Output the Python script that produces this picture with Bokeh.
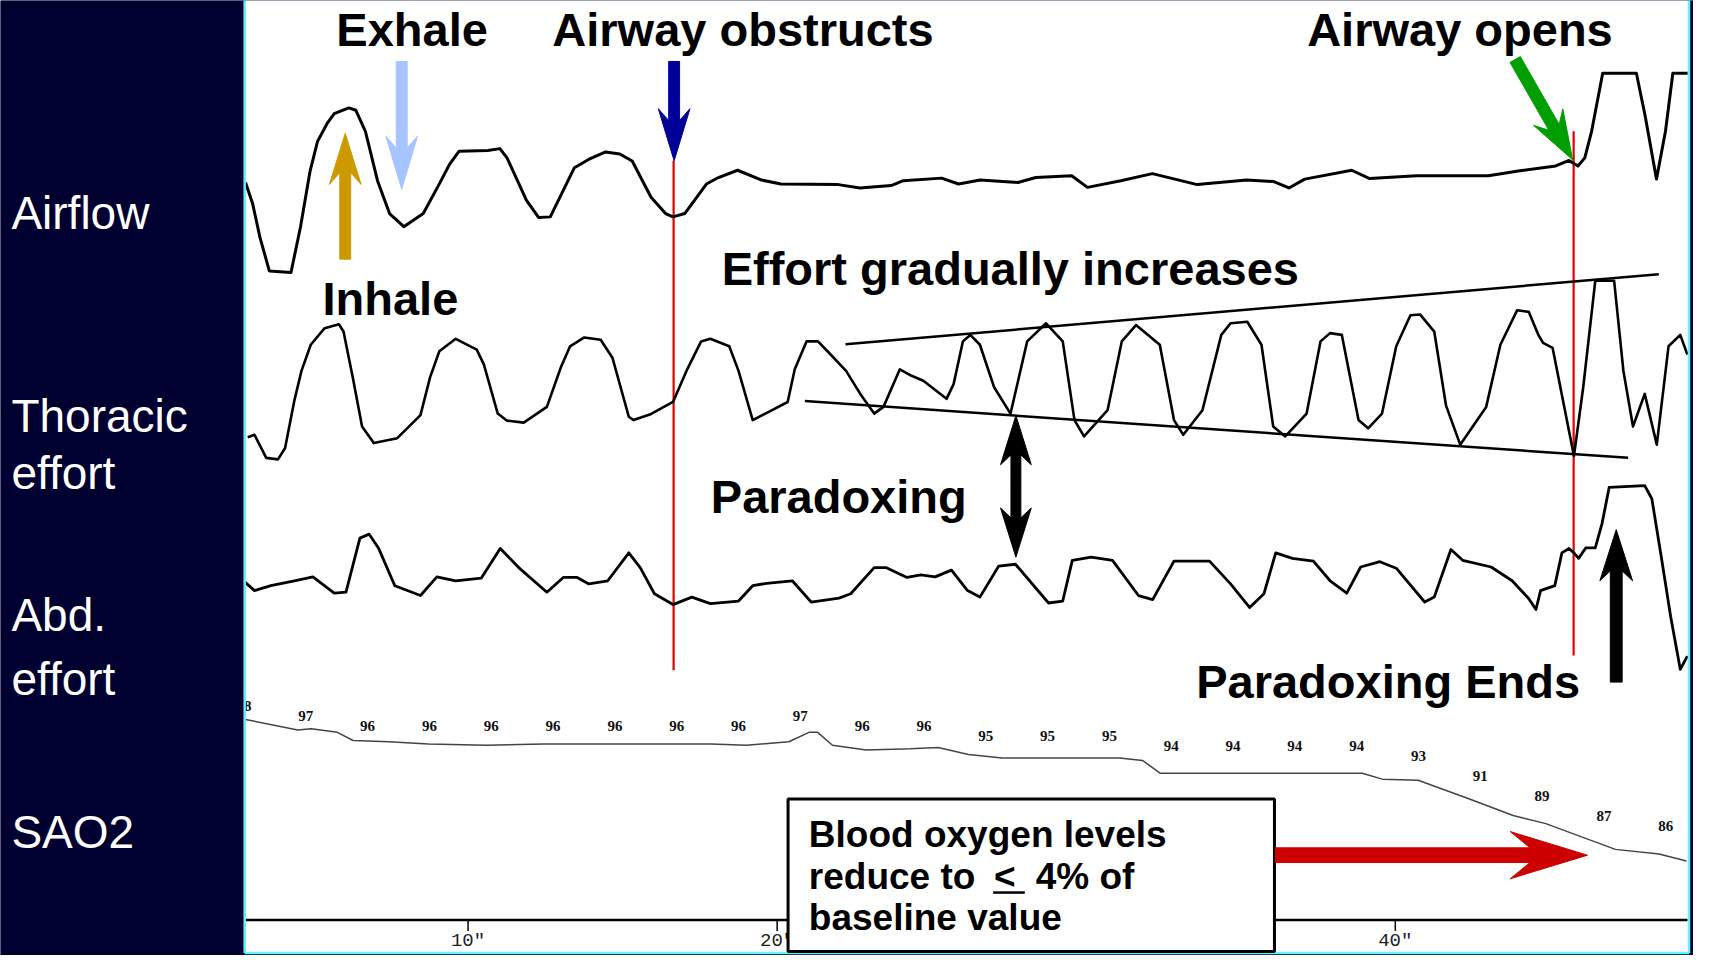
import math
from bokeh.plotting import figure
from bokeh.models import Range1d
from bokeh.core.properties import value
from bokeh.embed import file_html
from bokeh.resources import INLINE

# ---------------- data (time in seconds, amplitudes in arbitrary units) ----------------
airflow_t = [2.80, 3.03, 3.26, 3.57, 4.27, 4.58, 4.89, 5.13, 5.44, 5.67,
             6.14, 6.37, 6.68, 7.07, 7.46, 7.92, 8.55, 9.01, 9.40, 9.71,
             10.64, 11.03, 11.26, 11.89, 12.28, 12.66, 13.44, 13.90, 14.45, 14.91,
             15.31, 15.92, 16.39, 16.63, 17.01, 17.71, 18.10, 18.72, 19.50, 20.12,
             21.98, 22.68, 23.69, 24.08, 25.32, 25.87, 26.57, 27.79, 28.37, 29.53,
             30.04, 31.12, 32.14, 33.59, 35.19, 36.05, 36.56, 37.07, 38.59, 39.17,
             40.69, 43.01, 44.03, 45.19, 45.62, 45.91, 46.13, 46.35, 46.71, 47.80,
             48.08, 48.45, 48.74, 48.98, 49.46]
airflow_v = [47.5, 36.7, 20.0, 2.5, 1.7, 25.0, 53.4, 68.4, 77.5, 82.5,
             85.4, 84.2, 73.4, 48.4, 31.7, 25.0, 31.7, 45.0, 56.7, 63.4,
             63.7, 64.7, 60.0, 38.4, 29.7, 30.0, 55.0, 59.2, 63.0, 62.0,
             58.4, 40.0, 31.7, 30.0, 31.7, 46.7, 50.0, 53.7, 48.7, 46.7,
             46.4, 44.7, 45.9, 48.4, 49.7, 46.7, 48.7, 47.5, 50.0, 50.9,
             45.0, 48.4, 52.0, 46.4, 48.7, 48.0, 44.7, 49.2, 53.7, 49.5,
             50.9, 50.9, 53.4, 55.9, 58.7, 55.9, 60.0, 73.4, 103.0, 103.0,
             81.7, 49.2, 73.4, 103.0, 103.0]

thor_t = [2.87, 3.09, 3.47, 3.85, 4.08, 4.38, 4.61, 4.91, 5.36, 5.82,
          5.97, 6.27, 6.57, 6.95, 7.71, 8.46, 8.77, 9.07, 9.60, 10.28,
          10.51, 10.96, 11.26, 11.80, 12.55, 13.00, 13.30, 13.76, 14.29, 14.67,
          15.20, 15.35, 15.88, 16.63, 17.09, 17.54, 17.84, 18.45, 18.75, 19.21,
          19.73, 20.34, 20.57, 20.95, 21.32, 21.63, 22.23, 22.69, 23.14, 23.44,
          23.97, 24.35, 24.73, 25.48, 25.71, 26.01, 26.25, 26.56, 27.02, 27.55,
          28.09, 28.70, 29.24, 29.62, 29.93, 30.69, 31.15, 31.61, 32.38, 32.84,
          33.14, 33.76, 34.37, 34.67, 35.21, 35.67, 36.05, 36.44, 37.13, 37.58,
          37.89, 38.27, 38.81, 39.12, 39.57, 40.03, 40.49, 40.80, 41.26, 41.64,
          42.10, 42.94, 43.40, 43.94, 44.32, 44.63, 44.78, 45.09, 45.55, 45.78,
          46.08, 46.47, 47.08, 47.38, 47.69, 48.07, 48.46, 48.84, 49.22, 49.45]
thor_v = [18.0, 19.2, 7.5, 6.7, 12.5, 36.7, 51.7, 65.0, 73.4, 75.4,
          71.7, 48.4, 23.4, 15.0, 17.5, 29.2, 48.4, 61.7, 68.0, 62.5,
          55.0, 30.0, 26.4, 25.4, 33.4, 53.4, 64.2, 68.7, 67.5, 58.4,
          28.4, 26.7, 29.5, 35.9, 52.5, 66.7, 68.0, 64.2, 51.7, 26.7,
          30.9, 35.9, 52.5, 66.7, 66.7, 61.7, 51.7, 40.0, 30.0, 33.4,
          52.5, 49.2, 46.7, 37.5, 45.0, 66.7, 70.0, 65.0, 43.4, 30.0,
          66.7, 75.9, 66.7, 26.7, 18.4, 31.7, 66.7, 75.0, 65.0, 26.7,
          19.2, 31.7, 70.0, 75.9, 76.7, 65.0, 23.4, 18.4, 30.0, 66.7,
          70.9, 70.0, 26.7, 22.5, 30.0, 64.2, 80.0, 80.4, 71.7, 34.2,
          14.2, 33.4, 65.0, 82.5, 81.7, 70.0, 65.9, 63.4, 26.7, 8.4,
          43.4, 97.5, 97.5, 51.7, 23.4, 40.0, 14.2, 64.2, 70.0, 60.0]

abd_t = [2.79, 3.09, 3.62, 4.38, 4.98, 5.67, 6.05, 6.50, 6.80, 7.10,
         7.63, 8.46, 8.99, 9.60, 10.43, 11.04, 11.64, 12.55, 13.08, 13.53,
         13.91, 14.52, 15.20, 15.57, 16.03, 16.63, 17.24, 17.84, 18.75, 19.21,
         19.66, 20.49, 21.10, 22.00, 22.38, 23.14, 23.52, 24.20, 24.65, 25.11,
         25.64, 26.16, 26.56, 27.17, 27.71, 28.78, 29.24, 29.55, 30.16, 30.85,
         31.69, 32.15, 32.84, 33.99, 34.67, 35.29, 35.75, 36.13, 36.67, 37.35,
         37.89, 38.43, 38.88, 39.50, 40.03, 40.95, 41.26, 41.80, 42.18, 43.10,
         43.78, 44.32, 44.55, 44.70, 45.16, 45.39, 45.62, 45.78, 45.93, 46.16,
         46.47, 46.69, 46.92, 48.07, 48.30, 48.61, 48.91, 49.22, 49.45]
abd_v = [49.2, 45.0, 47.5, 50.0, 52.0, 43.7, 44.2, 71.7, 73.7, 66.7,
         47.5, 42.5, 52.0, 50.0, 51.4, 66.4, 56.7, 44.2, 51.7, 51.7,
         48.4, 50.0, 64.2, 56.7, 43.4, 37.9, 41.7, 38.4, 39.7, 47.5,
         48.7, 50.0, 39.2, 41.2, 43.4, 56.7, 56.7, 51.7, 53.0, 52.0,
         55.4, 45.0, 41.7, 57.5, 58.4, 38.7, 39.7, 60.4, 62.0, 60.4,
         42.5, 40.4, 60.0, 60.0, 48.4, 36.4, 43.4, 64.2, 61.4, 60.0,
         50.0, 43.7, 57.0, 59.7, 56.4, 39.2, 41.7, 65.9, 60.4, 57.0,
         50.0, 40.9, 35.4, 45.0, 47.5, 64.2, 66.4, 64.2, 61.4, 66.7,
         66.7, 79.2, 97.5, 98.4, 91.7, 61.7, 31.7, 5.0, 11.7]

spo2_t = [2.80, 4.49, 4.93, 5.77, 6.28, 7.44, 8.72, 10.58, 12.44, 17.87,
          19.01, 20.38, 21.03, 21.31, 21.79, 22.88, 24.31, 25.21, 26.19, 27.28,
          31.08, 31.82, 32.40, 38.93, 39.58, 40.74, 42.40, 43.81, 44.87, 47.12,
          48.53, 49.42]
spo2_v = [98.1, 97.2, 97.3, 97.0, 96.3, 96.2, 96.0, 95.9, 96.0, 96.0,
          95.9, 96.2, 97.0, 97.0, 95.9, 95.5, 95.6, 95.7, 95.1, 94.8,
          94.8, 94.6, 93.5, 93.5, 93.0, 92.9, 91.3, 89.9, 89.2, 87.0,
          86.6, 86.0]

spo2_label_t = [2.75, 4.75, 6.75, 8.75, 10.75, 12.75, 14.75, 16.75, 18.75, 20.75,
                22.75, 24.75, 26.75, 28.75, 30.75, 32.75, 34.75, 36.75, 38.75, 40.75,
                42.75, 44.75, 46.75, 48.75]
spo2_label_v = [98, 97, 96, 96, 96, 96, 96, 96, 96, 97,
                96, 96, 95, 95, 95, 94, 94, 94, 94, 93,
                91, 89, 87, 86]

event_t = [16.65, 45.77]          # airway obstructs, airway opens
tick_t = [10, 20, 30, 40]
tick_labels = ['10"', '20"', '30"', '40"']
channel_labels = ["Airflow", "Thoracic", "effort", "Abd.", "effort", "SAO2"]

# ---------------- figure ----------------
NAVY = "#000030"
CYAN = "#5ef4ff"
W, H = 1709, 971  # layout units (reference pixels)

p = figure(width=1693, height=955,
           x_range=Range1d(-5.128, 49.648), y_range=Range1d(H, 0),
           output_backend="svg", toolbar_location=None,
           x_axis_type=None, y_axis_type=None, min_border=0,
           background_fill_color=NAVY, border_fill_color=NAVY,
           outline_line_color=None)
p.min_border_left = p.min_border_right = p.min_border_top = p.min_border_bottom = 0


def yr(v_ref, y_ref, k):
    return Range1d(start=v_ref - (H - y_ref) / k, end=v_ref + y_ref / k)


p.extra_x_ranges = {"px": Range1d(0, W)}
p.extra_y_ranges = {
    "air": yr(0, 280, 2.0),
    "thor": yr(0, 480, 2.0),
    "abd": yr(0, 690, 2.0),
    "spo2": yr(96, 756, 11.9),
    "spo2_lbl": yr(96, 737.5, 10.2),
}

# half-height of the em box above the baseline, per font (fraction of size)
MID = {"Liberation Sans": 0.3465, "Liberation Mono": 0.2665, "Liberation Serif": 0.3375}


def txt(x, y, s, size, color="black", bold=True, font="Liberation Sans",
        align="left"):
    p.text(x=[x], y=[y - MID[font] * size], text=[s], x_range_name="px",
           text_font=value(font), text_font_size=value(f"{size}px"),
           text_font_style="bold" if bold else "normal", text_color=color,
           text_align=align, text_baseline="middle")


def arrow(x0, y0, x1, y1, sw, hw, hl, color, notch=0.0):
    dx, dy = x1 - x0, y1 - y0
    L = math.hypot(dx, dy)
    ux, uy = dx / L, dy / L
    nx, ny = -uy, ux
    bx, by = x1 - ux * hl, y1 - uy * hl
    jx, jy = bx + ux * notch, by + uy * notch
    pts = [(x0 + nx * sw / 2, y0 + ny * sw / 2),
           (jx + nx * sw / 2, jy + ny * sw / 2),
           (bx + nx * hw / 2, by + ny * hw / 2),
           (x1, y1),
           (bx - nx * hw / 2, by - ny * hw / 2),
           (jx - nx * sw / 2, jy - ny * sw / 2),
           (x0 - nx * sw / 2, y0 - ny * sw / 2)]
    p.patch(x=[q[0] for q in pts], y=[q[1] for q in pts], x_range_name="px",
            fill_color=color, line_color=color, line_width=1)


# white chart area
p.quad(left=[247], right=[1704], top=[0], bottom=[967.5], x_range_name="px",
       fill_color="white", line_color=None)

# SaO2 labels and line
p.text(x=spo2_label_t, y=spo2_label_v, text=[str(v) for v in spo2_label_v],
       y_range_name="spo2_lbl", text_font=value("Liberation Serif"),
       text_font_size=value("15px"), text_font_style="bold", text_color="#111111",
       text_align="center", text_baseline="middle")
p.line(spo2_t, spo2_v, y_range_name="spo2", line_color="#444444", line_width=1.5)

# red event lines
p.segment(x0=event_t, y0=[163, 133], x1=event_t, y1=[681, 666],
          line_color="#e00000", line_width=2.2)

# traces
p.line(airflow_t, airflow_v, y_range_name="air", line_color="black", line_width=3,
       line_join="round")
p.line(thor_t, thor_v, y_range_name="thor", line_color="black", line_width=2.6,
       line_join="round")
p.line(abd_t, abd_v, y_range_name="abd", line_color="black", line_width=2.8,
       line_join="round")

# effort trend lines
p.segment(x0=[853, 812], y0=[349.5, 407.3], x1=[1674, 1643], y1=[278.3, 465],
          x_range_name="px", line_color="black", line_width=2.5)

# time axis
p.segment(x0=[247], y0=[935], x1=[1703], y1=[935], x_range_name="px",
          line_color="black", line_width=2.5)
p.segment(x0=tick_t, y0=[936] * len(tick_t), x1=tick_t, y1=[946] * len(tick_t),
          line_color="black", line_width=1.5)
p.text(x=tick_t, y=[956] * len(tick_t), text=tick_labels,
       text_font=value("Liberation Mono"), text_font_size=value("19px"),
       text_color="#222222", text_align="center", text_baseline="middle")

# left navy panel (covers clipped start of labels)
p.quad(left=[0], right=[246], top=[0], bottom=[H], x_range_name="px",
       fill_color=NAVY, line_color=None)
p.quad(left=[1705.5], right=[W], top=[0], bottom=[H], x_range_name="px",
       fill_color=NAVY, line_color=None)

# cyan frame border
p.multi_line(xs=[[246.5, 246.5], [1704.5, 1704.5], [246.5, 1704.5]],
             ys=[[0, 968.5], [0, 968.5], [968.5, 968.5]], x_range_name="px",
             line_color=CYAN, line_width=2.5)

# channel labels
for s, yb in zip(channel_labels, [232, 438, 496, 641, 706, 861]):
    txt(11, yb, s, 46, color="white", bold=False)

# annotation texts
txt(339, 46, "Exhale", 47)
txt(557, 46, "Airway obstructs", 47)
txt(1319, 46, "Airway opens", 47)
txt(325, 319, "Inhale", 47)
txt(728, 289, "Effort gradually increases", 47)
txt(717, 521, "Paradoxing", 47)
txt(1207, 709, "Paradoxing Ends", 47)

# arrows
arrow(405, 62, 405, 192, 11, 32, 54, "#a6c4ff", notch=12)
arrow(348, 263, 348, 135, 11, 32, 52, "#cc9a00", notch=12)
arrow(680, 62, 680, 163, 11, 32, 53, "#000099", notch=12)
arrow(1529, 60, 1587, 162, 12, 34, 50, "#009e00", notch=12)
arrow(1025, 494, 1025, 422, 10, 31, 50, "black", notch=10)
arrow(1025, 494, 1025, 566, 10, 31, 50, "black", notch=10)
arrow(1631, 693, 1631, 538, 12, 33, 52, "black", notch=10)

# SaO2 annotation box
p.quad(left=[795], right=[1286], top=[812], bottom=[967], x_range_name="px",
       fill_color="white", line_color="black", line_width=3)
txt(816, 861, "Blood oxygen levels", 37)
txt(816, 903, "reduce to", 37)
txt(1003, 903, "<", 37)
txt(1045, 903, "4% of", 37)
txt(816, 945, "baseline value", 37)
p.segment(x0=[1002], y0=[907], x1=[1034], y1=[907], x_range_name="px",
          line_color="black", line_width=2.5)
arrow(1287, 869, 1602, 869, 15, 48, 78, "#cc0000", notch=20)

open("out.html", "w").write(file_html(p, INLINE))
